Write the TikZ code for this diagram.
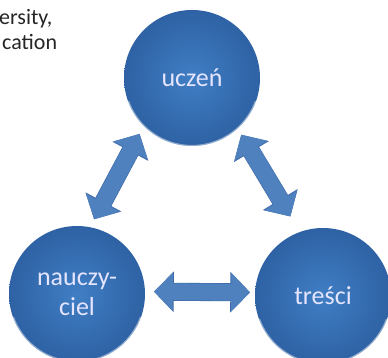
\documentclass[tikz,border=0pt]{standalone}
\usepackage{fontspec}
\setmainfont{Carlito}
\usetikzlibrary{arrows.meta, calc}
\usepackage{xcolor}
\definecolor{ballin}{RGB}{64,126,196}
\definecolor{ballout}{RGB}{46,98,164}
\definecolor{arrowfill}{RGB}{79,129,191}
\definecolor{arrowedge}{RGB}{62,106,168}

\begin{document}
\begin{tikzpicture}[x=1pt, y=1pt,
        sphere/.style={circle, minimum size=136pt, inner sep=0pt, inner color=ballin, outer color=ballout,
            text=white!90!blue, font=\fontsize{26}{30}\selectfont, align=center},
        rim/.style={draw=white, opacity=0.45, line width=1.2pt},
        blockarrow/.style={draw=arrowfill, line width=16.8pt,
            arrows={Triangle[width=37.6pt,length=18.8pt]-Triangle[width=37.6pt,length=18.8pt]},
            preaction={draw=arrowedge, line width=18pt,
                arrows={Triangle[width=39.4pt,length=19.7pt]-Triangle[width=39.4pt,length=19.7pt]}}},
        note/.style={anchor=base west, inner sep=0pt, text=black!85, font=\fontsize{22}{25}\selectfont}]
        \useasboundingbox[fill=white] (0,0) rectangle (388,358);

        \node[note] at (-1,333) (uni1) {ersity,};
        \node[note] at (2,308) (uni2) {cation};

        \node[sphere] at (192,280) (ucz) {ucze\'n};
        \node[sphere] at (77,64) (nau) {nauczy-\\ciel};
        \node[sphere] at (323,62) (tre) {tre\'sci};

        \draw[rim] ([shift={(200:67.5pt)}]ucz.center) arc[start angle=200, end angle=340, radius=67.5pt];
        \draw[rim] ([shift={(200:67.5pt)}]nau.center) arc[start angle=200, end angle=340, radius=67.5pt];
        \draw[rim] ([shift={(200:67.5pt)}]tre.center) arc[start angle=200, end angle=340, radius=67.5pt];

        \draw[blockarrow, shorten <=74pt, shorten >=74pt] ($(nau)!20pt!90:(ucz)$) -- ($(ucz)!20pt!-90:(nau)$);
        \draw[blockarrow, shorten <=74pt, shorten >=85pt] ($(ucz)!13pt!90:(tre)$) -- ($(tre)!13pt!-90:(ucz)$);
        \draw[blockarrow, shorten <=77pt, shorten >=73pt] ($(nau)!3pt!90:(tre)$) -- ($(tre)!3pt!-90:(nau)$);
    \end{tikzpicture}
\end{document}
